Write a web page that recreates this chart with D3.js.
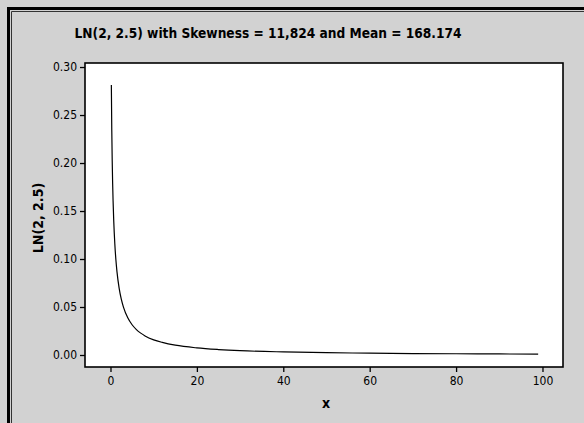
<!DOCTYPE html>
<html>
<head>
<meta charset="utf-8">
<script src="https://cdn.jsdelivr.net/npm/d3@7"></script>
<style>
  html, body { margin: 0; padding: 0; background: #d2d2d2; }
  svg { display: block; }
  text { font-family: "DejaVu Sans", Verdana, sans-serif; font-stretch: condensed; }
</style>
</head>
<body>
<svg id="chart" width="584" height="423"></svg>
<script>
// Lognormal density LN(2, 2.5): x positions and density values
const xValues = [0.2, 0.3, 0.4, 0.5, 0.6, 0.75, 1, 1.25, 1.5, 2, 2.5, 3, 4, 5, 6, 7, 8, 10, 12, 15, 20, 25, 30, 40, 50, 60, 70, 80, 90, 99];
const densityValues = [0.2814, 0.2340, 0.2020, 0.1787, 0.1606, 0.1400, 0.1159, 0.0992, 0.0868, 0.0696, 0.0581, 0.0499, 0.0387, 0.0315, 0.0265, 0.0228, 0.0199, 0.0158, 0.0131, 0.0102, 0.0074, 0.0057, 0.0045, 0.0032, 0.0024, 0.0019, 0.0015, 0.0013, 0.0011, 0.0009];
const xTicks = [0, 20, 40, 60, 80, 100];
const yTicks = [0.00, 0.05, 0.10, 0.15, 0.20, 0.25, 0.30];
const titleText = "LN(2, 2.5) with Skewness = 11,824 and Mean = 168.174";
const xLabel = "x";
const yLabel = "LN(2, 2.5)";

const svg = d3.select("#chart");
const W = 584, H = 423;
const plot = { left: 85, top: 63, right: 563, bottom: 367 };

// Page background and frame lines
svg.append("rect").attr("width", W).attr("height", H).attr("fill", "#d2d2d2");
svg.append("rect").attr("x", 7).attr("y", 7).attr("width", 3).attr("height", H - 7).attr("fill", "#000");
svg.append("rect").attr("x", 7).attr("y", 7).attr("width", W - 7).attr("height", 3).attr("fill", "#000");
svg.append("line").attr("x1", 11.5).attr("y1", 11.5).attr("x2", 11.5).attr("y2", H).attr("stroke", "#333").attr("stroke-width", 1);
svg.append("line").attr("x1", 11.5).attr("y1", 11.5).attr("x2", W).attr("y2", 11.5).attr("stroke", "#333").attr("stroke-width", 1);

const x = d3.scaleLinear().domain([-5.9, 104.75]).range([plot.left, plot.right]);
const y = d3.scaleLinear().domain([-0.0125, 0.3042]).range([plot.bottom, plot.top]);

// Plot area
svg.append("rect")
  .attr("x", plot.left).attr("y", plot.top)
  .attr("width", plot.right - plot.left).attr("height", plot.bottom - plot.top)
  .attr("fill", "#fff").attr("stroke", "#000").attr("stroke-width", 1.6);

// Axes
const xAxis = svg.append("g")
  .attr("transform", `translate(0,${plot.bottom})`)
  .call(d3.axisBottom(x).tickValues(xTicks).tickSize(5).tickPadding(4).tickFormat(d3.format("d")));
const yAxis = svg.append("g")
  .attr("transform", `translate(${plot.left},0)`)
  .call(d3.axisLeft(y).tickValues(yTicks).tickSize(5).tickPadding(3).tickFormat(d3.format(".2f")));
[xAxis, yAxis].forEach(g => {
  g.select(".domain").remove();
  g.selectAll(".tick line").attr("stroke", "#000").attr("stroke-width", 1.3);
  g.selectAll(".tick text").attr("fill", "#000").style("font-size", "12px").style("font-family", "\"DejaVu Sans\", Verdana, sans-serif");
});

// Density curve
const line = d3.line()
  .x((d, i) => x(xValues[i]))
  .y(d => y(d))
  .curve(d3.curveMonotoneX);
svg.append("path")
  .datum(densityValues)
  .attr("d", line)
  .attr("fill", "none")
  .attr("stroke", "#000")
  .attr("stroke-width", 1.2);

// Title and axis labels
svg.append("text")
  .attr("x", 268).attr("y", 38)
  .attr("text-anchor", "middle")
  .attr("font-weight", "bold")
  .attr("textLength", 387)
  .attr("lengthAdjust", "spacingAndGlyphs")
  .style("font-size", "14px")
  .text(titleText);
svg.append("text")
  .attr("x", 326).attr("y", 408)
  .attr("text-anchor", "middle")
  .attr("font-weight", "bold")
  .style("font-size", "14px")
  .text(xLabel);
svg.append("text")
  .attr("transform", `translate(43,${(plot.top + plot.bottom) / 2 + 3}) rotate(-90)`)
  .attr("text-anchor", "middle")
  .attr("font-weight", "bold")
  .style("font-size", "14px")
  .text(yLabel);
</script>
</body>
</html>
